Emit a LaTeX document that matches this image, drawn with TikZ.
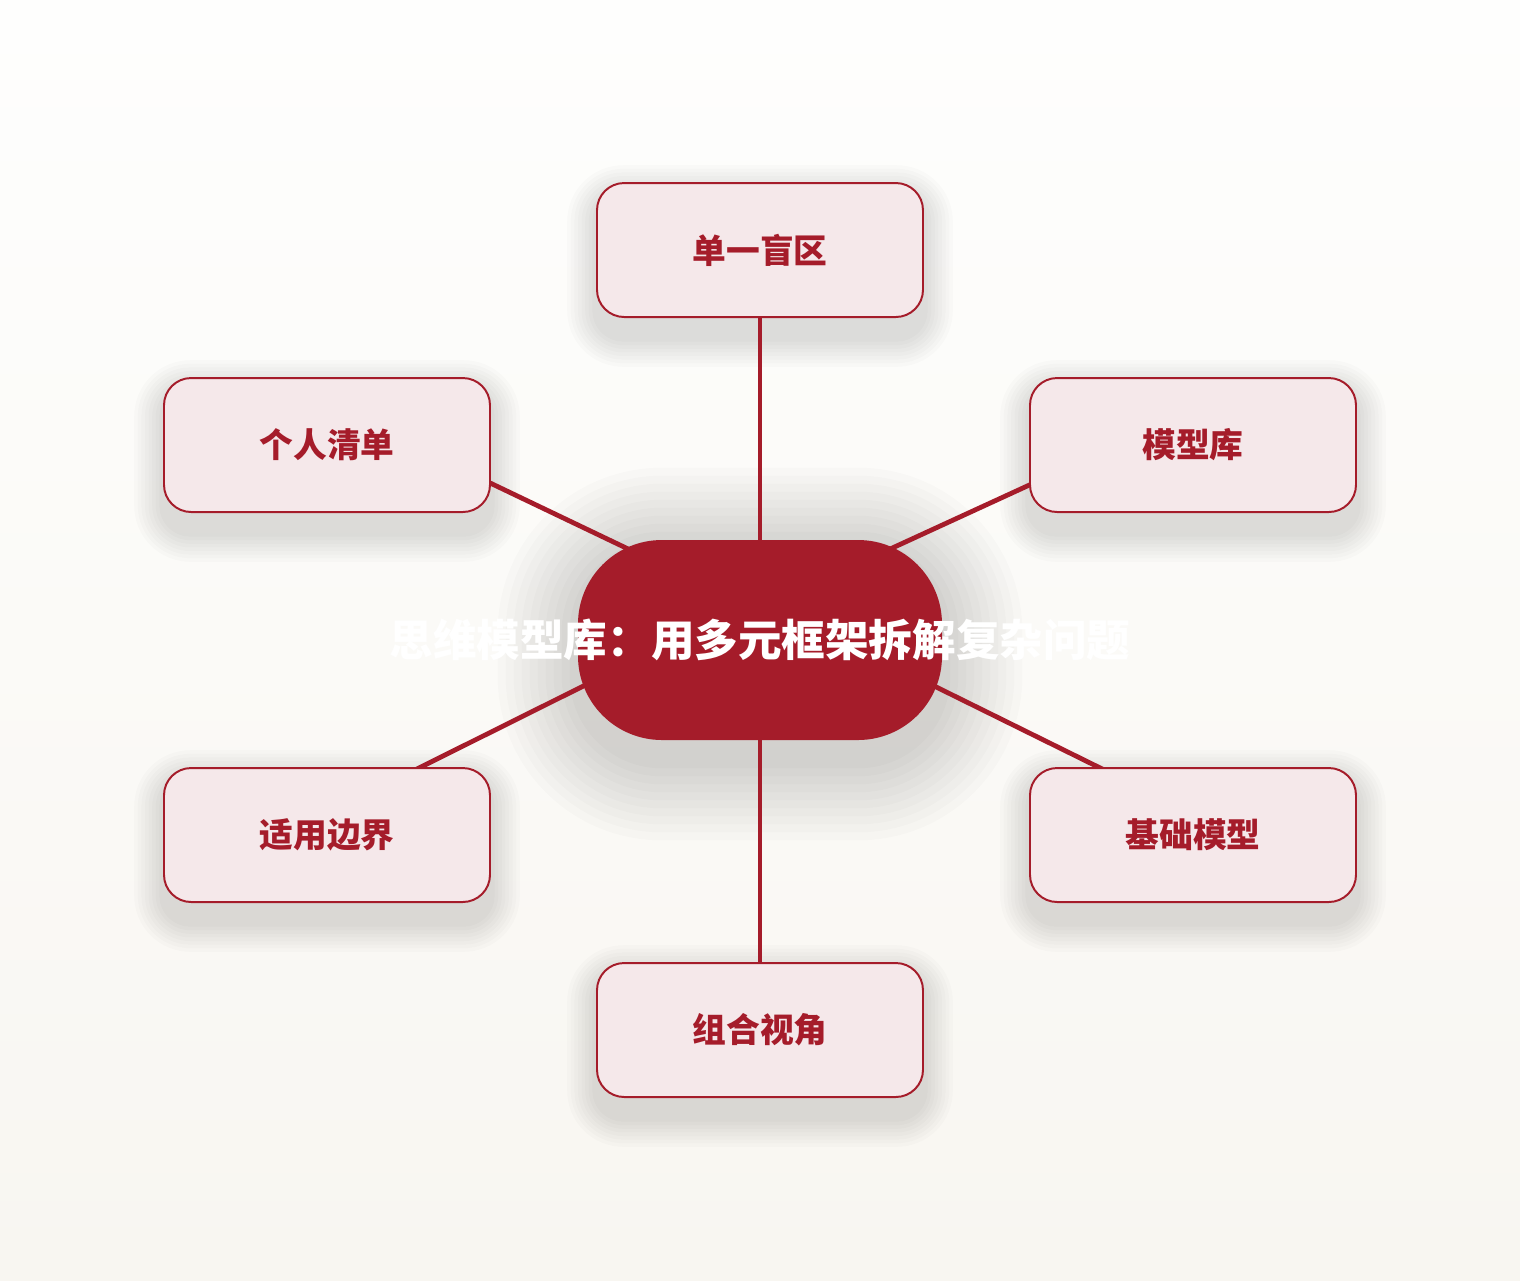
\documentclass[tikz,border=0pt]{standalone}
\usepackage{fontspec}
\newfontfamily\cjk{Noto Sans CJK SC}
\usetikzlibrary{positioning,matrix,backgrounds}
\definecolor{deepred}{RGB}{165,28,42}
\definecolor{petal}{RGB}{245,232,234}
\definecolor{papertop}{RGB}{254,254,253}
\definecolor{paper}{RGB}{248,246,241}
\pgfdeclarelayer{paperlayer}
\pgfsetlayers{paperlayer,background,main}

\begin{document}
\begin{tikzpicture}[core/.style={rectangle,rounded corners=2.1cm,fill=deepred,minimum width=9.1cm,minimum height=5cm}, coretext/.style={text=white,font=\cjk\bfseries\fontsize{31}{36}\selectfont}, leaf/.style={rectangle,rounded corners=0.68cm,draw=deepred,line width=1.4pt,fill=petal,text=deepred,minimum width=8.15cm,minimum height=3.35cm,font=\cjk\bfseries\fontsize{24}{28}\selectfont}, link/.style={line width=3.4pt,draw=deepred,line cap=round}, haze/.style={fill=black,opacity=0.014}, blank/.style={}]
\useasboundingbox (0,0) rectangle (38,-32);
\begin{pgfonlayer}{paperlayer}
\fill[top color=papertop,bottom color=paper] (0,0) rectangle (38,-32);
\end{pgfonlayer}
\matrix[row sep={4.875cm,between origins},column sep={10.825cm,between origins}] at (19,-16)
{
\node[blank]{};  \pgfmatrixnextcell \node(blind)[leaf]{单一盲区};  \pgfmatrixnextcell \node[blank]{};\\
\node(list)[leaf]{个人清单};  \pgfmatrixnextcell \node[blank]{};  \pgfmatrixnextcell \node(lib)[leaf]{模型库};\\
\node[blank]{};  \pgfmatrixnextcell \node(hub)[core,label={[coretext]center:思维模型库：用多元框架拆解复杂问题}]{};  \pgfmatrixnextcell \node[blank]{};\\
\node(bound)[leaf]{适用边界};  \pgfmatrixnextcell \node[blank]{};  \pgfmatrixnextcell \node(base)[leaf]{基础模型};\\
\node[blank]{};  \pgfmatrixnextcell \node(combo)[leaf]{组合视角};  \pgfmatrixnextcell \node[blank]{};\\
};

% soft shadows under the boxes
\begin{pgfonlayer}{paperlayer}
\foreach \n in {blind,list,lib,bound,base,combo}
  \foreach \s in {1,...,8}
    \fill[haze,rounded corners=0.68cm+\s*0.09cm] ([shift={(-\s*0.09,-0.5-\s*0.09)}]\n.south west) rectangle ([shift={(\s*0.09,-0.3+\s*0.09)}]\n.north east);
\foreach \s in {1,...,10}
  \fill[haze,opacity=0.016,rounded corners=2.1cm+\s*0.2cm] ([shift={(-\s*0.2,-0.5-\s*0.2)}]hub.south west) rectangle ([shift={(\s*0.2,-0.2+\s*0.2)}]hub.north east);
\end{pgfonlayer}

\begin{pgfonlayer}{background}
\draw [link] (hub) to (blind);
\draw [link] ([yshift=0.7cm]hub.center) to ([yshift=1cm]list.center);
\draw [link] ([yshift=0.78cm]hub.center) to ([yshift=0.88cm]lib.center);
\draw [link] ([yshift=1.05cm]hub.center) to ([yshift=0.53cm]bound.center);
\draw [link] ([yshift=1cm]hub.center) to ([yshift=0.53cm]base.center);
\draw [link] (hub) to (combo);
\end{pgfonlayer}
\end{tikzpicture}
\end{document}
